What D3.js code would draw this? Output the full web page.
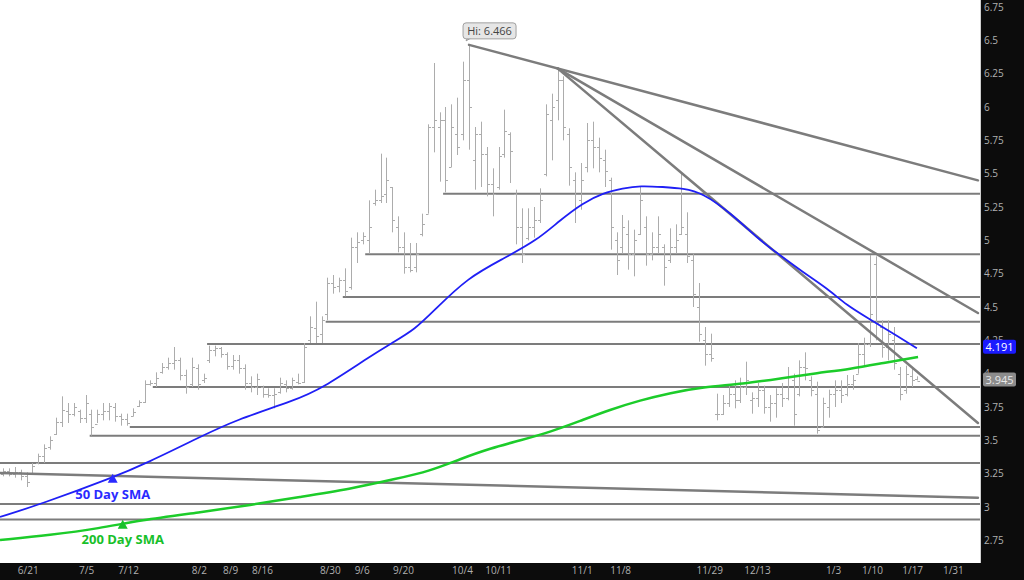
<!DOCTYPE html>
<html><head><meta charset="utf-8">
<script src="https://cdn.jsdelivr.net/npm/d3@7"></script>
<style>body{margin:0;background:#fff}svg{display:block;font-family:"Open Sans",sans-serif}</style>
</head><body><svg id="c" width="1024" height="580"></svg>
<script>
// ---- data ----
const barHigh = [3.29,3.29,3.30,3.28,3.26,3.33,3.40,3.47,3.53,3.67,
3.83,3.78,3.78,3.73,3.84,3.73,3.73,3.78,3.78,3.78,
3.70,3.70,3.74,3.80,3.95,3.95,4.01,4.08,4.12,4.20,
4.12,4.03,4.12,4.07,4.00,4.21,4.21,4.20,4.16,4.14,
4.14,4.07,3.98,4.00,3.91,3.89,3.89,3.97,3.95,3.97,
4.00,4.23,4.43,4.54,4.43,4.72,4.74,4.72,4.79,5.02,
5.06,5.06,5.30,5.38,5.65,5.62,5.40,5.18,5.06,4.98,
4.98,5.20,5.87,6.33,5.96,6.00,6.02,6.07,6.34,6.466,
5.85,5.89,5.70,5.54,5.70,5.98,5.81,5.38,5.24,5.24,
5.25,5.39,6.02,6.10,6.29,6.23,5.84,5.51,5.58,5.88,
5.89,5.77,5.68,5.47,5.06,5.19,5.15,5.08,5.40,5.18,
5.06,5.18,4.97,5.09,5.12,5.50,5.21,4.90,4.68,4.35,
4.30,3.85,3.84,3.91,3.95,3.97,4.09,3.86,3.93,3.91,
3.84,3.89,3.93,4.05,4.00,4.10,4.16,3.98,3.94,3.82,
3.88,3.95,3.95,3.99,3.99,4.23,4.27,4.89,4.88,4.40,
4.40,4.35,4.05,4.06,4.05,3.98];
const barLow = [3.23,3.23,3.22,3.20,3.15,3.24,3.32,3.33,3.43,3.54,
3.60,3.63,3.68,3.63,3.63,3.535,3.63,3.65,3.65,3.64,
3.61,3.61,3.68,3.75,3.78,3.91,3.90,4.00,4.03,4.03,
3.95,3.85,3.90,3.88,3.93,4.08,4.13,4.12,4.03,4.03,
4.00,3.88,3.86,3.84,3.82,3.82,3.74,3.85,3.86,3.88,
3.92,3.93,4.23,4.23,4.23,4.40,4.60,4.61,4.58,4.63,
4.83,4.97,4.90,5.26,5.28,5.28,5.06,4.91,4.75,4.76,
4.76,5.03,5.20,5.66,5.44,5.36,5.55,5.64,5.75,5.68,
5.38,5.40,5.33,5.18,5.38,5.62,5.43,4.97,4.83,5.00,
5.02,5.13,5.48,5.60,5.90,5.75,5.41,5.13,5.23,5.51,
5.54,5.51,5.40,4.93,4.74,4.90,4.78,4.73,5.04,4.81,
4.85,4.90,4.66,4.83,4.90,5.04,4.83,4.50,4.24,4.06,
4.09,3.65,3.69,3.75,3.74,3.78,3.84,3.70,3.75,3.70,
3.64,3.67,3.75,3.80,3.61,3.83,3.95,3.83,3.55,3.60,
3.67,3.75,3.78,3.83,3.88,4.00,4.05,4.20,4.25,4.12,
4.10,4.03,3.80,3.85,3.90,3.95];
const barOpen = [3.25,3.27,3.25,3.26,3.23,3.25,3.33,3.38,3.45,3.55,
3.64,3.72,3.70,3.72,3.67,3.70,3.62,3.70,3.72,3.75,
3.68,3.66,3.68,3.76,3.79,3.92,3.93,4.01,4.05,4.08,
4.10,3.99,3.92,4.04,3.95,4.10,4.18,4.19,4.15,4.06,
4.10,4.04,3.93,3.90,3.90,3.85,3.84,3.86,3.92,3.89,
3.94,3.94,4.25,4.34,4.30,4.45,4.68,4.66,4.70,4.65,
4.95,5.00,5.00,5.28,5.30,5.35,5.40,5.10,4.95,4.80,
4.80,5.05,5.20,5.85,5.85,5.90,5.55,5.80,5.80,6.20,
5.60,5.80,5.65,5.42,5.40,5.65,5.80,5.35,5.10,5.02,
5.10,5.15,5.50,5.90,6.05,6.20,5.80,5.45,5.30,5.55,
5.75,5.70,5.60,5.45,5.00,4.95,5.05,4.90,5.05,5.10,
4.90,4.95,4.95,4.85,4.95,5.05,5.05,4.85,4.50,4.25,
4.15,3.70,3.70,3.78,3.85,3.80,3.90,3.80,3.82,3.88,
3.75,3.78,3.85,3.82,3.95,3.85,4.05,3.95,3.85,3.60,
3.75,3.85,3.88,3.85,3.92,4.00,4.15,4.22,4.82,4.35,
4.20,4.25,4.00,3.88,3.98,3.96];
const barClose = [3.27,3.25,3.26,3.23,3.19,3.31,3.38,3.44,3.50,3.64,
3.73,3.70,3.75,3.67,3.78,3.60,3.70,3.72,3.76,3.68,
3.66,3.63,3.71,3.79,3.92,3.93,3.97,4.05,4.08,4.10,
3.99,3.90,4.05,3.92,3.97,4.18,4.19,4.15,4.06,4.10,
4.04,3.93,3.90,3.96,3.85,3.84,3.85,3.93,3.89,3.95,
3.93,4.20,4.35,4.28,4.40,4.68,4.65,4.70,4.62,4.95,
4.99,5.03,5.10,5.30,5.33,5.45,5.15,4.95,4.80,4.78,
4.90,5.12,5.85,5.90,5.90,5.45,5.85,5.70,6.20,6.00,
5.80,5.65,5.42,5.35,5.63,5.82,5.67,5.10,4.90,5.10,
5.15,5.30,5.95,6.00,6.20,5.85,5.55,5.25,5.45,5.75,
5.70,5.62,5.52,5.10,4.85,5.10,4.90,5.00,5.30,4.90,
4.95,5.05,4.80,4.95,5.00,5.10,4.88,4.60,4.30,4.15,
4.12,3.70,3.78,3.85,3.80,3.90,3.95,3.82,3.88,3.75,
3.78,3.85,3.82,3.98,3.70,4.05,4.04,3.88,3.58,3.78,
3.85,3.88,3.84,3.92,3.95,4.15,4.22,4.45,4.38,4.20,
4.30,4.08,3.85,4.00,3.95,3.945];

// 50 day SMA: [bar index, value]
const sma50 = [[-0.5,2.925],[6.3,3.02],[18.6,3.22],[24.4,3.33],[33.4,3.525],[39.3,3.65],[49.5,3.80],[54.1,3.89],
[61.9,4.12],[65.9,4.23],[69.8,4.33],[73.2,4.48],[78.8,4.72],[84.7,4.86],[90.5,5.00],[94.4,5.15],
[98.3,5.28],[101.7,5.355],[105.1,5.39],[108.0,5.41],[111.9,5.40],[115.3,5.39],[118.6,5.355],[123.2,5.21],
[128.3,5.00],[131.2,4.905],[135.6,4.76],[139.7,4.64],[143.1,4.51],[146.5,4.42],[152.0,4.27],[154.9,4.191]];
// 200 day SMA
const sma200 = [[-0.5,2.7525],[8.0,2.79],[16.4,2.84],[23.2,2.90],[33.4,2.96],[41.9,3.015],[50.3,3.075],[58.8,3.135],
[66.5,3.21],[72.4,3.27],[77.5,3.36],[82.6,3.44],[87.7,3.50],[92.9,3.565],[97.8,3.645],[102.9,3.73],
[108.0,3.80],[113.1,3.855],[118.6,3.90],[125.4,3.9225],[132.2,3.9675],[138.0,4.005],[143.6,4.035],[149.2,4.08],[155.1,4.125]];

// horizontal support/resistance levels and the bar where each begins
const levelValues = [5.35,4.895,4.575,4.39,4.2225,3.90,3.60,3.535,3.33,3.0225,2.907];
const levelStart  = [74.6,61.4,57.6,54.7,34.6,25.4,21.5,14.7,-0.5,-0.5,-0.5];

// trendlines: [startBar, startValue, endBar, endValue]
const trendLines = [[79,6.466,165.25,5.45],[94,6.29,165.25,4.455],[94,6.29,165.25,3.63],[-0.5,3.255,165.25,3.07]];

const yTickValues = [2.75,3,3.25,3.5,3.75,4,4.25,4.5,4.75,5,5.25,5.5,5.75,6,6.25,6.5,6.75];
const dateTickLabels = ["6/21","7/5","7/12","8/2","8/9","8/16","8/30","9/6","9/20","10/4","10/11","11/1","11/8","11/29","12/13","1/3","1/10","1/17","1/31"];
const dateTickBars = [4.2,14.1,21.2,33.2,38.5,43.9,55.4,60.8,67.8,77.8,83.9,98.1,104.6,119.7,127.8,140.7,147.3,154.1,161.0];

const hiValue = 6.466, hiBar = 79;
const lastValue = 3.945, sma50Last = 4.191;

// ---- drawing ----
const W = 1024, H = 580, PW = 980, PH = 563;
const svg = d3.select("#c");
const x = d3.scaleLinear().domain([-0.5, 165.6]).range([0, PW]);
const y = d3.scaleLinear().domain([2.58, 6.8025]).range([PH, 0]);

svg.append("rect").attr("x",0).attr("y",0).attr("width",PW).attr("height",PH).attr("fill","#fff");
svg.append("defs").append("clipPath").attr("id","clip").append("rect").attr("width",PW).attr("height",PH);
const g = svg.append("g").attr("clip-path","url(#clip)");

// levels
g.selectAll(".lvl").data(levelValues).join("line")
  .attr("x1",(d,i)=>x(levelStart[i])).attr("x2",PW)
  .attr("y1",d=>y(d)).attr("y2",d=>y(d))
  .attr("stroke","#7c7c7c").attr("stroke-width",2);

// bars
const bars = barHigh.map((h,i)=>({i,h,l:barLow[i],o:barOpen[i],c:barClose[i]}));
const bg = g.append("g").attr("stroke","#acacac").attr("stroke-width",1);
bars.forEach(b=>{
  const cx = Math.round(x(b.i))+0.5;
  bg.append("line").attr("x1",cx).attr("x2",cx).attr("y1",y(b.h)).attr("y2",y(b.l));
  bg.append("line").attr("x1",cx-2.5).attr("x2",cx).attr("y1",Math.round(y(b.o))+0.5).attr("y2",Math.round(y(b.o))+0.5);
  bg.append("line").attr("x1",cx).attr("x2",cx+2.5).attr("y1",Math.round(y(b.c))+0.5).attr("y2",Math.round(y(b.c))+0.5);
});

// trendlines
g.selectAll(".tl").data(trendLines).join("line")
  .attr("x1",d=>x(d[0])).attr("y1",d=>y(d[1])).attr("x2",d=>x(d[2])).attr("y2",d=>y(d[3]))
  .attr("stroke","#7c7c7c").attr("stroke-width",2.5).attr("stroke-linecap","round");

// SMAs
const line = d3.line().x(d=>x(d[0])).y(d=>y(d[1])).curve(d3.curveBasis);
g.append("path").attr("d",line(sma200)).attr("fill","none").attr("stroke","#1ccc2a").attr("stroke-width",2.5);
g.append("path").attr("d",line(sma50)).attr("fill","none").attr("stroke","#1f1ff5").attr("stroke-width",1.8);

// SMA labels with markers
function marker(bar, val, color, text, dy){
  const px = x(bar), py = y(val);
  svg.append("path").attr("d",`M${px-5},${py+5}L${px+5},${py+5}L${px},${py-4}Z`).attr("fill",color);
  svg.append("text").attr("x",px).attr("y",py+dy).attr("text-anchor","middle")
    .attr("font-size",13).attr("font-weight","bold").attr("fill",color).text(text);
}
marker(18.6, 3.22, "#2a2aff", "50 Day SMA", 21);
marker(20.3, 2.875, "#18c02a", "200 Day SMA", 20);

// Hi label
{
  const px = x(hiBar), py = y(hiValue);
  const hg = svg.append("g");
  hg.append("path").attr("d",`M${px-3},${py-4}L${px-1},${py-8}L${px+4},${py-8}Z`).attr("fill","#d8d8d8").attr("stroke","#9a9a9a");
  hg.append("rect").attr("x",px-6).attr("y",py-22).attr("width",53).attr("height",16).attr("rx",3)
    .attr("fill","#e6e6e6").attr("stroke","#a0a0a0");
  hg.append("text").attr("x",px+20.5).attr("y",py-10).attr("text-anchor","middle").attr("font-size",11)
    .attr("fill","#444").text("Hi: " + hiValue);
}

// right axis panel
svg.append("rect").attr("x",PW).attr("y",0).attr("width",W-PW).attr("height",H).attr("fill","#0c0c0c");
svg.append("rect").attr("x",0).attr("y",PH).attr("width",W).attr("height",H-PH).attr("fill","#0c0c0c");
svg.append("line").attr("x1",PW+0.5).attr("x2",PW+0.5).attr("y1",0).attr("y2",PH).attr("stroke","#cfcfcf");

const yAxis = d3.axisRight(y).tickValues(yTickValues).tickSize(0).tickPadding(4).tickFormat(d=>String(d));
const ya = svg.append("g").attr("transform",`translate(${PW},0)`).call(yAxis);
ya.select(".domain").remove();
ya.selectAll("text").attr("fill","#b0b0b0").attr("font-size",10).attr("font-family","Open Sans, sans-serif");

const xAxis = d3.axisBottom(x).tickValues(dateTickBars).tickSize(0).tickPadding(4).tickFormat((d,i)=>dateTickLabels[i]);
const xa = svg.append("g").attr("transform",`translate(0,${PH})`).call(xAxis);
xa.select(".domain").remove();
xa.selectAll("text").attr("fill","#b0b0b0").attr("font-size",10).attr("font-family","Open Sans, sans-serif");

// value boxes
function valBox(v, fill, tcolor){
  const py = y(v)-1.5;
  svg.append("rect").attr("x",PW+3).attr("y",py-7).attr("width",33).attr("height",14).attr("rx",2).attr("fill",fill);
  svg.append("text").attr("x",PW+19.5).attr("y",py+4).attr("text-anchor","middle").attr("font-size",11)
    .attr("fill",tcolor).text(String(v));
}
valBox(sma50Last, "#1a1aff", "#ffffff");
valBox(lastValue, "#8c8c8c", "#e8e8e8");
</script></body></html>
